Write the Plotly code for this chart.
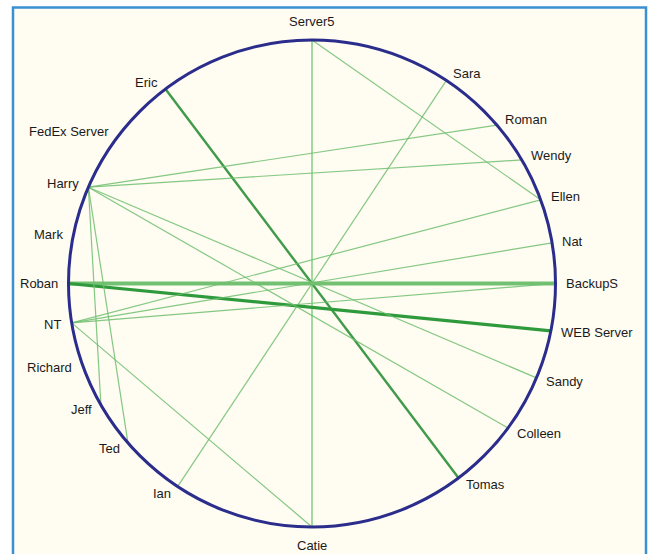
import math
import plotly.graph_objects as go

# Nodes placed around the circle (angle in degrees, counter-clockwise from the right)
nodes = ["Server5", "Sara", "Roman", "Wendy", "Ellen", "Nat", "BackupS", "WEB Server",
         "Sandy", "Colleen", "Tomas", "Catie", "Ian", "Ted", "Jeff", "Richard", "NT",
         "Roban", "Mark", "Harry", "FedEx Server", "Eric"]
angles = [90, 56.5, 40.6, 30.5, 20.1, 9.6, 0, -11.2,
          -22.8, -36.4, -53, -90, -123.5, -139.1, -150.1, -160.5, -170.7,
          180, 168.8, 156.7, 143, 127]

# Connections
edge_source = ["Server5", "Server5", "Sara", "Eric", "Roban", "Roban",
               "Harry", "Harry", "Harry", "Harry", "Harry", "Harry",
               "NT", "NT", "NT", "NT"]
edge_target = ["Catie", "Ellen", "Ian", "Tomas", "BackupS", "WEB Server",
               "Roman", "Wendy", "Sandy", "Colleen", "Jeff", "Ted",
               "Ellen", "Nat", "BackupS", "Catie"]
edge_weight = [2, 1, 1, 3, 5, 4,
               1, 1, 1, 1, 1, 1,
               1, 1, 1, 1]

W, H = 650, 554
CX, CY, R = 312, 283.5, 243.5  # pixel geometry of the circle

weight_style = {
    1: dict(color="rgba(110,190,110,0.85)", width=1.2),
    2: dict(color="rgba(130,205,130,0.95)", width=1.6),
    3: dict(color="#3f9a4a", width=2.4),
    4: dict(color="#2f9a3c", width=3.2),
    5: dict(color="#72c072", width=4.2),
}

pos = {n: (math.cos(math.radians(a)), math.sin(math.radians(a))) for n, a in zip(nodes, angles)}

fig = go.Figure()
for s, t, w in zip(edge_source, edge_target, edge_weight):
    x0, y0 = pos[s]
    x1, y1 = pos[t]
    fig.add_trace(go.Scatter(x=[x0, x1], y=[y0, y1], mode="lines",
                             line=weight_style[w], hoverinfo="skip", showlegend=False))

annotations = []
k = 1.035
for n, a in zip(nodes, angles):
    c, s = math.cos(math.radians(a)), math.sin(math.radians(a))
    if c > 0.1:
        xa = "left"
    elif c < -0.1:
        xa = "right"
    else:
        xa = "center"
    if s > 0.98:
        ya = "bottom"
    elif s < -0.98:
        ya = "top"
    else:
        ya = "middle"
    annotations.append(dict(x=k * c, y=k * s, text=n, showarrow=False,
                            xanchor=xa, yanchor=ya,
                            font=dict(family="Liberation Sans, Arial, sans-serif",
                                      size=13, color="#1a1a1a")))

shapes = [
    dict(type="rect", xref="paper", yref="paper",
         x0=13 / W, x1=646 / W, y0=-0.05, y1=1 - 7.5 / H,
         line=dict(color="#3a90d4", width=2.5), fillcolor="#fffcf2", layer="below"),
    dict(type="circle", xref="x", yref="y", x0=-1, y0=-1, x1=1, y1=1,
         line=dict(color="#2b2d8c", width=3), layer="above"),
]

fig.update_layout(
    width=W, height=H,
    margin=dict(l=0, r=0, t=0, b=0),
    paper_bgcolor="white", plot_bgcolor="rgba(0,0,0,0)",
    xaxis=dict(range=[-CX / R, (W - CX) / R], visible=False, fixedrange=True),
    yaxis=dict(range=[-(H - CY) / R, CY / R], visible=False, fixedrange=True),
    shapes=shapes, annotations=annotations, showlegend=False,
)

fig.write_html("out.html", config={"displayModeBar": False},
               post_script="document.body.style.margin='0';document.body.style.overflow='hidden';")
